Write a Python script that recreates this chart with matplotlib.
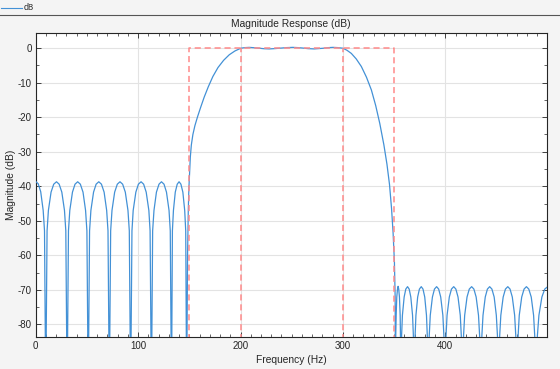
import matplotlib
matplotlib.use('Agg')
import matplotlib.pyplot as plt
from matplotlib.ticker import MultipleLocator

plt.rcParams['font.family'] = ['Liberation Sans', 'DejaVu Sans']
plt.rcParams['axes.unicode_minus'] = False

# lower stopband (Hz, dB) -- nulls at -100 fall below the axis
stop1_f = [0.0, 2.5, 4.9, 7.3, 8.6, 9.8,
           11.1, 12.4, 15.0, 17.6, 20.3, 22.9, 25.5, 28.1, 29.4, 30.7,
           32.0, 33.3, 35.9, 38.4, 41.0, 43.6, 46.2, 48.7, 50.0, 51.3,
           52.6, 53.9, 56.5, 59.0, 61.6, 64.2, 66.8, 69.3, 70.6, 71.9,
           73.2, 74.5, 77.1, 79.7, 82.3, 84.9, 87.5, 90.1, 91.4, 92.7,
           94.0, 95.2, 97.8, 100.3, 102.9, 105.4, 107.9, 110.5, 111.7, 113.0,
           114.2, 115.5, 117.9, 120.4, 122.8, 125.3, 127.7, 130.2, 131.4, 132.6,
           133.5, 134.5, 136.3, 138.2, 140.0, 141.8, 143.7, 145.5, 146.5, 147.4]
stop1_db = [-38.6, -39.3, -41.6, -47.0, -52.9, -100,
            -52.9, -47.0, -41.7, -39.4, -38.7, -39.4, -41.7, -47.0, -52.9, -100,
            -52.9, -47.0, -41.7, -39.4, -38.7, -39.4, -41.7, -47.0, -52.9, -100,
            -52.9, -47.0, -41.7, -39.4, -38.7, -39.4, -41.7, -47.0, -52.9, -100,
            -52.9, -47.0, -41.7, -39.4, -38.7, -39.4, -41.7, -47.0, -52.9, -100,
            -52.9, -47.0, -41.7, -39.4, -38.7, -39.4, -41.7, -47.0, -52.9, -100,
            -52.9, -47.0, -41.7, -39.4, -38.7, -39.4, -41.7, -47.0, -52.9, -100,
            -52.9, -47.0, -41.7, -39.4, -38.7, -39.4, -41.7, -47.0, -52.9, -100]

# rising edge
trans1_f = [148.3, 149.0, 149.6, 150.3, 151.0, 152.0, 153.5, 155.5, 158.0, 161.0,
            164.5, 168.5, 173.0, 178.0, 183.5, 189.0, 194.5]
trans1_db = [-60.0, -47.0, -40.5, -36.0, -31.5, -28.0, -25.0, -22.4, -19.9, -17.2,
             -14.2, -11.2, -8.2, -5.6, -3.5, -1.9, -0.8]

# passband ripple
pass_f = [200.3, 204.0, 208.4, 213.0, 218.0, 223.0, 228.0, 234.0, 240.0, 245.0,
          251.0, 256.0, 261.0, 266.0, 272.0, 277.0, 281.0, 286.0, 290.2, 295.0, 300.0]
pass_db = [0.0, 0.17, 0.25, 0.15, 0.0, -0.14, -0.2, -0.1, 0.05, 0.18,
           0.25, 0.18, 0.05, -0.12, -0.2, -0.1, 0.0, 0.18, 0.25, 0.18, 0.0]

# falling edge
trans2_f = [304.0, 308.2, 313.0, 318.0, 323.0, 327.8, 332.0, 336.0, 340.0,
            343.0, 345.5, 347.5, 349.0, 350.3, 351.0, 351.3]
trans2_db = [-0.6, -1.5, -3.1, -5.3, -8.4, -12.1, -16.6, -21.8, -28.0,
             -33.6, -39.5, -46.5, -53.5, -62.0, -72.0, -100]

# upper stopband
stop2_f = [351.6, 352.0, 352.6, 353.3, 353.9, 354.5, 355.2, 355.9, 356.2, 356.5,
           357.3, 358.1, 359.8, 361.4, 363.1, 364.7, 366.3, 368.0, 368.8, 369.6,
           370.5, 371.3, 373.0, 374.7, 376.5, 378.2, 379.9, 381.6, 382.4, 383.3,
           384.3, 385.3, 387.4, 389.4, 391.5, 393.5, 395.5, 397.6, 398.6, 399.6,
           400.7, 401.7, 403.9, 406.0, 408.2, 410.3, 412.4, 414.6, 415.6, 416.7,
           417.8, 418.9, 421.2, 423.4, 425.7, 427.9, 430.1, 432.4, 433.5, 434.6,
           435.7, 436.8, 439.0, 441.1, 443.3, 445.5, 447.7, 449.8, 450.9, 452.0,
           453.1, 454.2, 456.5, 458.7, 461.0, 463.2, 465.4, 467.7, 468.8, 469.9,
           471.1, 472.2, 474.6, 476.9, 479.2, 481.5, 483.9, 486.2, 487.3, 488.5,
           489.9, 491.4, 494.3, 497.1, 500.0]
stop2_db = [-83.3, -77.4, -72.1, -69.8, -69.0, -69.8, -72.1, -77.4, -83.3, -100,
            -83.3, -77.4, -72.1, -69.8, -69.1, -69.8, -72.1, -77.4, -83.3, -100,
            -83.3, -77.4, -72.1, -69.8, -69.1, -69.8, -72.1, -77.4, -83.3, -100,
            -83.3, -77.4, -72.1, -69.8, -69.1, -69.8, -72.1, -77.4, -83.3, -100,
            -83.3, -77.4, -72.1, -69.8, -69.1, -69.8, -72.1, -77.4, -83.3, -100,
            -83.3, -77.4, -72.1, -69.8, -69.1, -69.8, -72.1, -77.4, -83.3, -100,
            -83.3, -77.4, -72.1, -69.8, -69.1, -69.8, -72.1, -77.4, -83.3, -100,
            -83.3, -77.4, -72.1, -69.8, -69.1, -69.8, -72.1, -77.4, -83.3, -100,
            -83.3, -77.4, -72.1, -69.8, -69.1, -69.8, -72.1, -77.4, -83.3, -100,
            -83.3, -77.4, -72.1, -69.8, -69.1]

# spec mask
mask_f = [150, 150, 350, 350]
mask_db = [-100, 0, 0, -100]
pass_edges = [200, 300]

freq = stop1_f + trans1_f + pass_f + trans2_f + stop2_f
mag = stop1_db + trans1_db + pass_db + trans2_db + stop2_db

blue = '#4391d6'
red = '#ff8a8a'
dark = '#262626'

fig = plt.figure(figsize=(5.6, 3.69), dpi=100, facecolor='#f4f4f4')
ax = fig.add_axes([35.7 / 560, 1 - 336.7 / 369, 511 / 560, 304 / 369])
ax.set_facecolor('white')

ax.plot(freq, mag, color=blue, lw=0.9, zorder=3)
ax.plot(mask_f, mask_db, color=red, lw=1.1, ls=(0, (4, 2.5)), zorder=4)
for e in pass_edges:
    ax.plot([e, e], [-100, 0], color=red, lw=1.1, ls=(0, (4, 2.5)), zorder=4)

ax.set_xlim(0, 499)
ax.set_ylim(-83.6, 4.5)
ax.xaxis.set_major_locator(MultipleLocator(100))
ax.xaxis.set_minor_locator(MultipleLocator(10))
ax.yaxis.set_major_locator(MultipleLocator(10))
ax.yaxis.set_minor_locator(MultipleLocator(5))
ax.grid(True, which='major', color='#e3e3e3', lw=0.8, zorder=0)
ax.set_axisbelow(True)
ax.tick_params(which='both', direction='in', top=True, right=True,
               colors=dark, labelsize=7)
ax.tick_params(which='major', length=3.5, width=0.6, pad=3)
ax.tick_params(which='minor', length=2, width=0.5)
for s in ax.spines.values():
    s.set_color(dark)
    s.set_linewidth(0.8)

ax.set_title('Magnitude Response (dB)', fontsize=7.4, color=dark, pad=4)
ax.set_xlabel('Frequency (Hz)', fontsize=7.4, color=dark, labelpad=3)
ax.set_ylabel('Magnitude (dB)', fontsize=7.4, color=dark)
ax.yaxis.set_label_coords(-0.038, 0.5)

# legend strip at the top
fig.add_artist(plt.Line2D([1 / 560, 22 / 560], [1 - 8 / 369] * 2, color=blue, lw=0.8))
fig.text(24 / 560, 1 - 8 / 369, 'd8', fontsize=6.5, color=dark, va='center', ha='left')
fig.add_artist(plt.Line2D([0, 1], [1 - 15 / 369] * 2, color='#555555', lw=0.8))

fig.savefig('out.png', dpi=100, facecolor=fig.get_facecolor())
